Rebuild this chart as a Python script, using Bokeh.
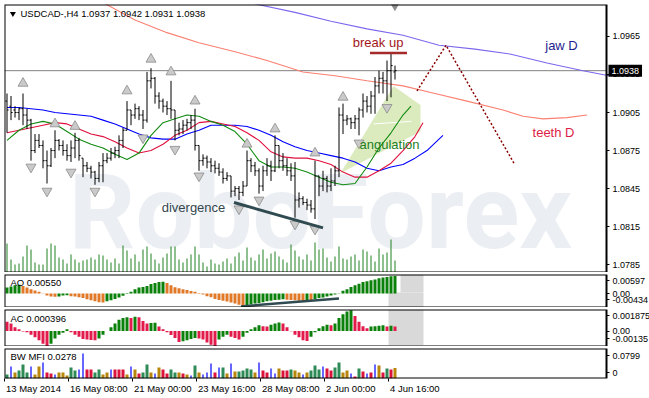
from bokeh.plotting import figure
from bokeh.layouts import column
from bokeh.models import Range1d, FixedTicker, LinearAxis, Label, PrintfTickFormatter
from bokeh.embed import file_html
from bokeh.resources import INLINE
from bokeh.core.properties import value

# ---------------- data ----------------
header_text = "USDCAD-,H4  1.0937 1.0942 1.0931 1.0938"
price_ticks = [1.0785, 1.0815, 1.0845, 1.0875, 1.0905, 1.0935, 1.0965]
last_price = 1.0938
time_tick_bars = [0, 16, 32, 48, 64, 80, 96]
time_labels = ["13 May 2014", "16 May 08:00", "21 May 00:00", "23 May 16:00",
               "28 May 08:00", "2 Jun 00:00", "4 Jun 16:00"]

bar_high = [1.0920,1.0918,1.0910,1.0909,1.0920,1.0908,1.0900,1.0888,1.0888,1.0883,
            1.0875,1.0877,1.0891,1.0884,1.0883,1.0880,1.0883,1.0889,1.0885,1.0869,
            1.0866,1.0863,1.0859,1.0866,1.0873,1.0873,1.0877,1.0878,1.0887,1.0893,
            1.0914,1.0907,1.0912,1.0910,1.0907,1.0937,1.0940,1.0933,1.0921,1.0916,
            1.0914,1.0930,1.0907,1.0897,1.0899,1.0900,1.0903,1.0908,1.0879,1.0872,
            1.0871,1.0869,1.0867,1.0865,1.0861,1.0858,1.0855,1.0847,1.0847,1.0851,
            1.0875,1.0869,1.0866,1.0861,1.0863,1.0869,1.0867,1.0887,1.0879,1.0873,
            1.0869,1.0865,1.0866,1.0842,1.0839,1.0837,1.0836,1.0867,1.0855,1.0859,
            1.0855,1.0861,1.0863,1.0909,1.0912,1.0903,1.0901,1.0903,1.0909,1.0920,
            1.0918,1.0922,1.0933,1.0938,1.0937,1.0946,1.0952,1.0942]
bar_low = [1.0889,1.0899,1.0901,1.0899,1.0895,1.0892,1.0867,1.0873,1.0877,1.0861,
           1.0849,1.0862,1.0869,1.0875,1.0871,1.0867,1.0866,1.0869,1.0867,1.0854,
           1.0858,1.0853,1.0848,1.0850,1.0850,1.0865,1.0867,1.0869,1.0869,1.0877,
           1.0891,1.0895,1.0900,1.0899,1.0892,1.0897,1.0924,1.0912,1.0908,1.0905,
           1.0903,1.0900,1.0883,1.0887,1.0888,1.0891,1.0892,1.0875,1.0859,1.0863,
           1.0861,1.0858,1.0857,1.0855,1.0849,1.0851,1.0838,1.0839,1.0836,1.0839,
           1.0847,1.0858,1.0855,1.0841,1.0843,1.0855,1.0851,1.0858,1.0861,1.0859,
           1.0855,1.0851,1.0822,1.0830,1.0832,1.0828,1.0826,1.0821,1.0839,1.0843,
           1.0842,1.0843,1.0847,1.0854,1.0888,1.0895,1.0892,1.0892,1.0887,1.0901,
           1.0905,1.0904,1.0904,1.0920,1.0920,1.0914,1.0917,1.0931]
bar_open = [1.0914,1.0910,1.0907,1.0905,1.0908,1.0903,1.0899,1.0875,1.0883,1.0879,
            1.0867,1.0863,1.0875,1.0883,1.0879,1.0875,1.0871,1.0877,1.0883,1.0869,
            1.0863,1.0861,1.0858,1.0853,1.0863,1.0867,1.0869,1.0873,1.0875,1.0883,
            1.0891,1.0907,1.0903,1.0908,1.0903,1.0899,1.0930,1.0932,1.0918,1.0914,
            1.0910,1.0908,1.0907,1.0891,1.0892,1.0895,1.0897,1.0899,1.0879,1.0867,
            1.0869,1.0866,1.0863,1.0861,1.0858,1.0853,1.0855,1.0843,1.0845,1.0842,
            1.0847,1.0867,1.0863,1.0859,1.0847,1.0859,1.0863,1.0859,1.0879,1.0867,
            1.0863,1.0859,1.0855,1.0836,1.0837,1.0834,1.0832,1.0829,1.0855,1.0847,
            1.0853,1.0847,1.0851,1.0859,1.0903,1.0899,1.0900,1.0897,1.0900,1.0907,
            1.0914,1.0910,1.0918,1.0926,1.0932,1.0930,1.0938,1.0937]
bar_close = [1.0907,1.0905,1.0905,1.0908,1.0903,1.0899,1.0875,1.0883,1.0879,1.0867,
             1.0863,1.0875,1.0883,1.0879,1.0875,1.0871,1.0877,1.0883,1.0871,1.0863,
             1.0861,1.0858,1.0853,1.0863,1.0867,1.0869,1.0873,1.0875,1.0883,1.0891,
             1.0907,1.0903,1.0908,1.0903,1.0899,1.0930,1.0932,1.0918,1.0914,1.0910,
             1.0908,1.0907,1.0891,1.0892,1.0895,1.0897,1.0899,1.0879,1.0867,1.0869,
             1.0866,1.0863,1.0861,1.0858,1.0853,1.0855,1.0843,1.0845,1.0842,1.0847,
             1.0867,1.0863,1.0859,1.0847,1.0859,1.0863,1.0859,1.0879,1.0867,1.0863,
             1.0859,1.0855,1.0836,1.0837,1.0834,1.0832,1.0829,1.0855,1.0847,1.0853,
             1.0847,1.0851,1.0859,1.0903,1.0899,1.0900,1.0897,1.0900,1.0907,1.0914,
             1.0910,1.0918,1.0926,1.0932,1.0930,1.0938,1.0942,1.0938]
tick_volume = [2900,1300,800,900,1600,2700,2300,1000,800,800,
               2400,2900,2700,1500,1300,900,1800,1300,1000,1200,
               1300,1500,1300,1800,1700,1300,1000,1400,900,2700,
               2200,1400,1800,1100,2300,2600,1900,1300,900,1500,
               1900,2600,2600,1300,1000,1400,1800,2600,1800,1000,
               600,1300,900,800,1100,1400,900,1600,2000,1200,
               2500,1500,1200,1800,2300,1400,1900,2100,1600,1300,
               1000,2800,2200,1600,1300,1800,1200,3000,2300,2400,
               1500,1100,1600,2600,1400,1300,1600,1800,1200,2300,
               2100,1700,1100,2400,1800,2000,3300,1200]

# Alligator (H4), sampled at bar indices
jaw_idx = [0,3,6,9,12,15,18,21,24,27,30,33,36,39,42,45,48,51,54,57,60,63,66,69,72,75,78,81,84,87,90,93,96,99,102,105,108,109]
jaw_val = [1.0909,1.0909,1.0908,1.0907,1.0905,1.0904,1.0903,1.0902,1.0899,1.0896,
           1.0892,1.0888,1.0885,1.0884,1.0884,1.0888,1.0891,1.0895,1.0895,1.0895,
           1.0894,1.0891,1.0887,1.0882,1.0878,1.0875,1.0873,1.0871,1.0869,1.0866,
           1.0861,1.0859,1.0862,1.0864,1.0869,1.0875,1.0884,1.0887]
teeth_idx = [0,3,6,9,12,15,18,21,24,27,30,33,36,39,42,45,48,51,54,57,60,63,66,69,72,75,78,81,84,87,90,93,96,99,102,104]
teeth_val = [1.0889,1.0891,1.0893,1.0895,1.0897,1.0896,1.0892,1.0888,1.0886,1.0882,
             1.0877,1.0873,1.0875,1.0880,1.0887,1.0891,1.0897,1.0898,1.0896,1.0894,
             1.0889,1.0883,1.0874,1.0870,1.0869,1.0869,1.0867,1.0864,1.0858,1.0854,
             1.0854,1.0859,1.0865,1.0875,1.0886,1.0897]
lips_idx = [0,3,6,9,12,15,18,21,24,27,30,33,36,39,42,45,48,51,54,57,60,63,66,69,72,75,78,81,84,87,90,93,96,99,101]
lips_val = [1.0883,1.0891,1.0896,1.0898,1.0896,1.0890,1.0884,1.0880,1.0877,1.0872,
            1.0868,1.0873,1.0887,1.0897,1.0900,1.0903,1.0902,1.0898,1.0895,1.0890,
            1.0880,1.0867,1.0862,1.0862,1.0861,1.0858,1.0854,1.0850,1.0848,1.0849,
            1.0862,1.0877,1.0889,1.0903,1.0910]

# Alligator (D1) projected on the H4 chart
jawD_idx = [58, 63, 72, 81, 90, 99, 108, 117, 126, 135, 144, 150.5]
jawD_val = [1.0994, 1.0990, 1.0984, 1.0977, 1.0971, 1.0966, 1.0958, 1.0955, 1.0951, 1.0944, 1.0938, 1.0934]
teethD_idx = [22, 25, 32, 40, 48, 57, 65, 74, 82, 90, 99, 107, 115, 124, 129, 134, 140, 145]
teethD_val = [1.0996, 1.0990, 1.0978, 1.0968, 1.0960, 1.0953, 1.0946, 1.0937, 1.0934, 1.0930,
              1.0926, 1.0920, 1.0914, 1.0907, 1.0902, 1.0900, 1.0901, 1.0903]

# Fractals
fr_up_idx = [4, 12, 17, 30, 36, 41, 47, 60, 67, 77, 84]
fr_up_val = [1.0928, 1.0896, 1.0894, 1.0922, 1.0947, 1.0937, 1.0914, 1.0880, 1.0892, 1.0873, 1.0917]
fr_dn_idx = [6, 10, 16, 22, 34, 42, 48, 58, 63, 72, 77, 88, 95]
fr_dn_val = [1.0862, 1.0843, 1.0858, 1.0843, 1.0885, 1.0876, 1.0855, 1.0829, 1.0836, 1.0817, 1.0813, 1.0881, 1.0909]

# Drawings
div_idx = [56.75, 79]
div_val = [1.0834, 1.0814]
forecast_idx = [102.5, 109.75, 126.75]
forecast_val = [1.0922, 1.0958, 1.0865]
breakup_idx = [90.75, 100]
breakup_level = 1.0952
angul_idx = [84, 97.25, 104, 104]
angul_val = [1.0857, 1.0926, 1.0911, 1.0890]
angul_mark_idx = [92.25, 101.75]
angul_mark_val = [1.0896, 1.0898]

# Awesome Oscillator
ao_vals = [0.0019,0.0022,0.0026,0.0028,0.0024,0.0019,0.0014,0.0010,0.0006,0.0001,
           -0.0006,-0.0009,-0.0010,-0.0009,-0.0006,-0.0005,-0.0008,-0.0009,-0.0011,-0.0014,
           -0.0018,-0.0021,-0.0024,-0.0027,-0.0028,-0.0024,-0.0021,-0.0017,-0.0012,-0.0007,
           -0.0001,0.0006,0.0014,0.0019,0.0021,0.0024,0.0030,0.0033,0.0036,0.0037,
           0.0033,0.0026,0.0020,0.0017,0.0014,0.0011,0.0008,0.0006,0.0002,-0.0003,
           -0.0008,-0.0011,-0.0017,-0.0020,-0.0022,-0.0025,-0.0028,-0.0031,-0.0035,-0.0040,
           -0.0039,-0.0034,-0.0031,-0.0029,-0.0027,-0.0024,-0.0022,-0.0020,-0.0019,-0.0018,
           -0.0019,-0.0020,-0.0021,-0.0022,-0.0023,-0.0021,-0.0022,-0.0017,-0.0014,-0.0012,
           -0.0009,-0.0006,-0.0003,0.0001,0.0009,0.0014,0.0021,0.0026,0.0031,0.0036,
           0.0039,0.0042,0.0044,0.0048,0.0050,0.0052,0.0054,0.0055]
ao_div_idx = [58.5, 83]
ao_div_val = [-0.0040, -0.00152]

# Accelerator Oscillator
ac_vals = [0.0008,0.00065,0.00033,0.00016,-0.00005,-0.0001,-0.00033,-0.00055,-0.0008,-0.0011,
           -0.00134,-0.0011,-0.00065,-0.00033,-0.00016,0.00016,
           -0.0001,-0.00033,-0.0005,-0.0007,-0.00075,-0.00078,-0.0008,-0.00065,-0.00033,0.0,
           0.00033,0.00065,0.00098,0.00114,0.0012,0.00114,
           0.00125,0.0012,0.00088,0.00065,0.0007,0.00072,0.0004,0.00016,-0.0001,-0.00035,
           -0.0006,-0.00095,-0.0009,-0.0008,-0.0007,-0.0006,
           -0.00065,-0.00075,-0.001,-0.0012,-0.00133,-0.00075,-0.0005,-0.00033,-0.0005,-0.0006,
           -0.00075,-0.0005,-0.00016,0.00016,0.00033,0.0005,
           0.00042,0.0004,0.00055,0.00065,0.00075,0.00065,0.00033,-0.00003,-0.00033,-0.00055,
           -0.0008,-0.00088,-0.0005,-0.0001,0.00023,0.00042,
           0.00055,0.0005,0.00065,0.00114,0.00147,0.0017,0.0018,0.0013,0.0008,0.00042,
           0.00023,0.0004,0.00042,0.00045,0.0005,0.0004,0.00045,0.000396]

# Market Facilitation Index (value and Bill Williams zone)
mfi_vals = [0.0106,0.0319,0.0160,0.0213,0.0372,0.0160,0.0319,0.0106,0.0319,0.0426,
            0.0160,0.0133,0.0106,0.0160,0.0160,0.0080,0.0293,0.0213,0.0240,0.0665,
            0.0240,0.0240,0.0160,0.0240,0.0106,0.0160,0.0240,0.0240,0.0240,0.0240,
            0.0106,0.0319,0.0240,0.0133,0.0160,0.0372,0.0160,0.0133,0.0293,0.0240,
            0.0133,0.0240,0.0160,0.0160,0.0133,0.0106,0.0080,0.0346,0.0160,0.0106,
            0.0160,0.0399,0.0160,0.0293,0.0293,0.0133,0.0399,0.0186,0.0186,0.0213,
            0.0266,0.0240,0.0160,0.0426,0.0213,0.0160,0.0266,0.0133,0.0266,0.0213,
            0.0213,0.0240,0.0213,0.0160,0.0106,0.0160,0.0213,0.0346,0.0240,0.0319,
            0.0266,0.0213,0.0293,0.0426,0.0160,0.0213,0.0133,0.0053,0.0266,0.0186,
            0.0133,0.0160,0.0372,0.0346,0.0160,0.0266,0.0240,0.0278]
mfi_zone = list("GBYGGGBYYBRRBYYYGGBBRRGGYYBRRRYBYRGGYBYRRGGYRYBGYBBBRB"
                "GYBYGGGGYBRRBBYRRGYYBYGGGBRRGGYYBRGRBRBYRGRY")

# ---------------- style ----------------
FONT = "Liberation Sans"
W = 649
N = len(bar_high)
XR = Range1d(0, 161.25)      # plotting area spans the whole width ...
FRAME_R = 150.5              # ... the chart box ends here, the price scale lies beyond
OFF = 0.625                  # bar centre inside its 4 px slot


def bx(indices):
    return [k + OFF for k in indices]


def panel(height, y0, y1, top, bottom):
    p = figure(width=W, height=height, x_range=XR, y_range=Range1d(y0, y1),
               output_backend="svg", toolbar_location=None,
               x_axis_location=None, y_axis_location=None,
               min_border_left=4, min_border_right=0,
               min_border_top=top, min_border_bottom=bottom)
    p.grid.visible = False
    p.outline_line_color = None
    p.background_fill_color = "white"
    p.border_fill_color = "white"
    return p


def box(p, y0, y1):
    p.quad(left=[0], right=[FRAME_R], bottom=[y0], top=[y1], fill_color=None,
           line_color="black", line_width=2)


def right_axis(p, ticks, overrides=None, fmt=None):
    ax = LinearAxis(ticker=FixedTicker(ticks=ticks, minor_ticks=[]), fixed_location=FRAME_R)
    ax.major_tick_out = 3
    ax.major_tick_in = 0
    ax.minor_tick_out = 0
    ax.minor_tick_in = 0
    ax.axis_line_color = None
    ax.major_tick_line_color = "black"
    ax.major_label_standoff = 3
    ax.major_label_text_font = FONT
    ax.major_label_text_font_size = "9px"
    ax.major_label_text_color = "black"
    if fmt:
        ax.formatter = PrintfTickFormatter(format=fmt)
    if overrides:
        ax.major_label_overrides = overrides
    p.add_layout(ax, "right")
    return ax


def panel_label(p, x, y, text):
    p.add_layout(Label(x=x, y=y, text=text, text_font=FONT, text_font_size="9.5px",
                       text_color="black", text_baseline="middle", text_align="left"))


xs = bx(range(N))

# ---------------- main price panel ----------------
P0, P1 = 1.07788, 1.09902
main = panel(272, P0, P1, 4, 0)

main.text(x=[79.0], y=[1.0826], text=["RoboForex"], text_font=value("Roboto"),
          text_font_size="104px", text_font_style="bold", text_color="#EBEEF2",
          text_align="center", text_baseline="middle")

main.patch(x=angul_idx, y=angul_val, fill_color="#DCEBBE", line_color=None)
main.line(x=angul_mark_idx, y=angul_mark_val, line_color="white", line_width=1)

main.line(x=[0, FRAME_R], y=[last_price, last_price], line_color="#808080", line_width=1)

main.line(x=bx(teethD_idx), y=teethD_val, line_color="#FA8072", line_width=1.1)
main.line(x=bx(jawD_idx), y=jawD_val, line_color="#7B68EE", line_width=1.1)

main.extra_y_ranges = {"vol": Range1d(0, 26800)}
main.segment(x0=xs, y0=[0] * N, x1=xs, y1=tick_volume, y_range_name="vol",
             line_color="#1E801E", line_width=1)

main.line(x=bx(jaw_idx), y=jaw_val, line_color="#0000FF", line_width=1.1)
main.line(x=bx(teeth_idx), y=teeth_val, line_color="#E0103C", line_width=1.1)
main.line(x=bx(lips_idx), y=lips_val, line_color="#108A10", line_width=1.1)

main.segment(x0=xs, y0=bar_low, x1=xs, y1=bar_high, line_color="black", line_width=1)
main.segment(x0=[x - 0.4 for x in xs], y0=bar_open, x1=xs, y1=bar_open, line_color="black", line_width=1)
main.segment(x0=xs, y0=bar_close, x1=[x + 0.4 for x in xs], y1=bar_close, line_color="black", line_width=1)

main.scatter(x=bx(fr_up_idx), y=fr_up_val, marker="triangle", size=10,
             fill_color="#CACACA", line_color="#8A8A8A", line_width=0.8)
main.scatter(x=bx(fr_dn_idx), y=fr_dn_val, marker="inverted_triangle", size=10,
             fill_color="#CACACA", line_color="#8A8A8A", line_width=0.8)

main.line(x=bx(div_idx), y=div_val, line_color="#2F4A50", line_width=3)
main.line(x=bx(forecast_idx), y=forecast_val, line_color="#8B0000", line_width=1.5, line_dash="2 2")
main.line(x=bx(breakup_idx), y=[breakup_level, breakup_level], line_color="#A52A2A", line_width=2.5)

# chart-shift marker and header
main.scatter(x=[97.6], y=[1.0989], marker="inverted_triangle", size=9, fill_color="#8C8C8C", line_color=None)
main.scatter(x=[2.1], y=[1.0983], marker="inverted_triangle", size=6, fill_color="black", line_color=None)
panel_label(main, 4.0, 1.0983, header_text)

for txt, x, y, col in [("break up", 93.4, 1.0960, "#A31621"),
                       ("jaw D", 139.25, 1.0958, "#1E1E90"),
                       ("teeth D", 137.25, 1.0889, "#DC1E46"),
                       ("angulation", 96.25, 1.0880, "#1E7F1E"),
                       ("divergence", 47.25, 1.0830, "#34474F")]:
    main.add_layout(Label(x=x, y=y, text=txt, text_font=FONT, text_font_size="13px",
                          text_color=col, text_align="center", text_baseline="middle"))

box(main, P0, P1)
right_axis(main, price_ticks, fmt="%.4f")
main.add_layout(Label(x=151.0, y=last_price, text="1.0938", text_font=FONT,
                      text_font_size="9px", text_color="white", background_fill_color="black",
                      text_align="left", text_baseline="middle", padding=3))


def edge_ticks(lo, hi, frame_h, top_px, bottom_px):
    upp = (hi - lo) / frame_h
    return hi - top_px * upp, lo + bottom_px * upp


GREEN = "#0B800B"
# ---------------- AO ----------------
AO_MIN, AO_MAX = -0.00434, 0.00597
ao_fig = panel(35, AO_MIN, AO_MAX, 2, 0)
ao_fig.quad(left=[96], right=[104.75], bottom=[AO_MIN], top=[0.00035], fill_color="#D9D9D9", line_color=None)
ao_fig.quad(left=[99], right=[104.75], bottom=[0.00035], top=[AO_MAX], fill_color="#D9D9D9", line_color=None)
ao_col = [GREEN if (k == 0 or ao_vals[k] > ao_vals[k - 1]) else "#E07828" for k in range(N)]
ao_fig.vbar(x=xs, width=0.75, bottom=0, top=ao_vals, fill_color=ao_col, line_color=None)
ao_fig.line(x=bx(ao_div_idx), y=ao_div_val, line_color="#2F4A50", line_width=2.5)
panel_label(ao_fig, 1.5, 0.00347, "AO 0.00550")
box(ao_fig, AO_MIN, AO_MAX)
t_hi, t_lo = edge_ticks(AO_MIN, AO_MAX, 33, 6, 8)
right_axis(ao_fig, [t_lo, 0.0, t_hi], overrides={t_hi: "0.00597", 0.0: "0.00", t_lo: "-0.00434"})

# ---------------- AC ----------------
AC_MIN, AC_MAX = -0.00135, 0.001875
ac_fig = panel(39, AC_MIN, AC_MAX, 2, 0)
ac_fig.quad(left=[96], right=[104.75], bottom=[AC_MIN + 0.0001], top=[AC_MAX], fill_color="#D9D9D9", line_color=None)
ac_col = [GREEN if (k > 0 and ac_vals[k] > ac_vals[k - 1]) else "#E31A4C" for k in range(N)]
ac_fig.vbar(x=xs, width=0.75, bottom=0, top=ac_vals, fill_color=ac_col, line_color=None)
panel_label(ac_fig, 1.5, 0.00109, "AC 0.000396")
box(ac_fig, AC_MIN, AC_MAX)
t_hi, t_lo = edge_ticks(AC_MIN, AC_MAX, 37, 6, 8)
right_axis(ac_fig, [t_lo, 0.0, t_hi], overrides={t_hi: "0.001875", 0.0: "0.00", t_lo: "-0.00135"})

# ---------------- BW MFI ----------------
BW_MIN, BW_MAX = 0.0, 0.0799
bw_fig = panel(52, BW_MIN, BW_MAX, 2, 20)
zone_color = {"G": "#2E8B57", "Y": "#B8860B", "B": "#0000FF", "R": "#DC143C"}
zone_width = {"G": 0.75, "Y": 0.75, "B": 0.3, "R": 0.75}
bw_fig.vbar(x=xs, width=[zone_width[z] for z in mfi_zone], bottom=0, top=mfi_vals,
            fill_color=[zone_color[z] for z in mfi_zone], line_color=None)
panel_label(bw_fig, 1.5, 0.0586, "BW MFI 0.0278")
box(bw_fig, BW_MIN, BW_MAX)
t_hi, t_lo = edge_ticks(BW_MIN, BW_MAX, 30, 7, 6)
right_axis(bw_fig, [t_lo, t_hi], overrides={t_hi: "0.0799", t_lo: "0"})

# time axis: ticks, then left-aligned labels
tick_ax = LinearAxis(ticker=FixedTicker(ticks=time_tick_bars, minor_ticks=[]))
tick_ax.major_tick_out = 3
tick_ax.major_tick_in = 0
tick_ax.axis_line_color = None
tick_ax.major_tick_line_color = "black"
tick_ax.major_label_text_font_size = "0px"
tick_ax.major_label_standoff = 0
tick_ax.major_label_overrides = {t: "" for t in time_tick_bars}
bw_fig.add_layout(tick_ax, "below")

adv = {c: 0.556 for c in "0123456789"}
adv.update({" ": 0.278, ":": 0.278, "M": 0.833, "a": 0.556, "y": 0.5, "J": 0.5, "u": 0.556, "n": 0.556})
label_centres = []
for t, lab in zip(time_tick_bars, time_labels):
    wpx = sum(adv.get(ch, 0.556) for ch in lab) * 9.5
    label_centres.append(t + (wpx / 2 + 1.5) / 4)
lab_ax = LinearAxis(ticker=FixedTicker(ticks=label_centres, minor_ticks=[]))
lab_ax.major_tick_out = 0
lab_ax.major_tick_in = 0
lab_ax.axis_line_color = None
lab_ax.major_tick_line_color = None
lab_ax.major_label_standoff = 1
lab_ax.major_label_text_font = FONT
lab_ax.major_label_text_font_size = "9.5px"
lab_ax.major_label_text_color = "black"
lab_ax.major_label_overrides = {c: lab for c, lab in zip(label_centres, time_labels)}
bw_fig.add_layout(lab_ax, "below")

layout = column(main, ao_fig, ac_fig, bw_fig, spacing=0)
open("out.html", "w").write(file_html(layout, INLINE))
